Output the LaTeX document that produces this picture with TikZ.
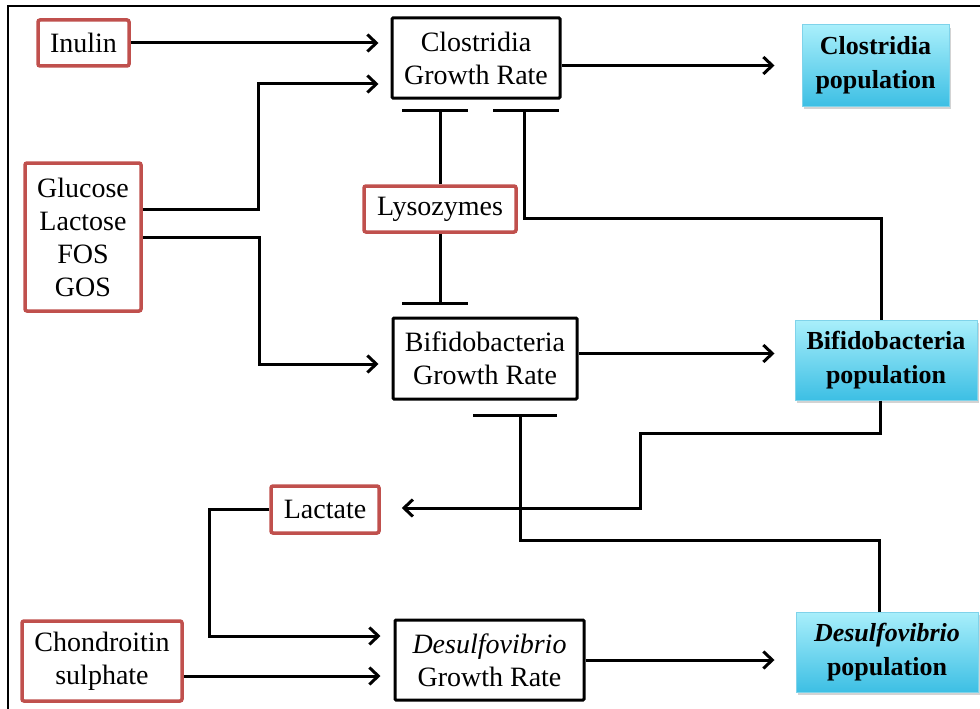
\documentclass[tikz,border=0pt]{standalone}
\usepackage{fontspec}
\setmainfont{Liberation Serif}
\usetikzlibrary{arrows.meta,shadows,calc}
\definecolor{boxred}{HTML}{C0504D}
\definecolor{popTop}{HTML}{A9EFFB}
\definecolor{popBot}{HTML}{3DBFE4}
\definecolor{popEdge}{HTML}{7FD3EA}
\begin{document}
\begin{tikzpicture}[x=1pt,y=-1pt,line width=3pt,
  txt/.style={font=\fontsize{28}{33}\selectfont,align=center,inner sep=0pt},
  redbox/.style={txt,draw=boxred,line width=3.5pt,rounded corners=2pt,fill=white},
  blackbox/.style={txt,draw=black,line width=3pt,rounded corners=1pt,fill=white},
  popbox/.style={align=center,inner sep=0pt,font=\fontsize{26}{34}\selectfont\bfseries,
     draw=popEdge,line width=1pt,top color=popTop,bottom color=popBot,
     drop shadow={shadow xshift=2pt,shadow yshift=-3pt,opacity=0.35}},
  arr/.style={-{Straight Barb[length=9pt,width=17pt,line width=3pt]},line width=3pt},
  bar/.style={line width=3pt,line cap=butt}]
\useasboundingbox (0,0) rectangle (980,709);
\begin{scope}
\clip (0,0) rectangle (980,709);
\draw[line width=2pt] (8,6) rectangle (1000,740);
\end{scope}

% nodes
\node[redbox,minimum width=91pt,minimum height=46pt] (inulin) at (83.5,43) {Inulin};
\node[blackbox,minimum width=168pt,minimum height=80pt] (cgr) at (476,58) {Clostridia\\Growth Rate};
\node[popbox,minimum width=147pt,minimum height=81pt] (cpop) at (875.5,65.5) {Clostridia\\population};
\node[redbox,minimum width=116pt,minimum height=148pt] (glu) at (83,237) {Glucose\\Lactose\\FOS\\GOS};
\node[redbox,minimum width=152pt,minimum height=46pt] (lys) at (440,209) {Lysozymes};
\node[blackbox,minimum width=184pt,minimum height=81pt] (bgr) at (485,358.5) {Bifidobacteria\\Growth Rate};
\node[popbox,minimum width=182pt,minimum height=80pt] (bpop) at (886,360) {Bifidobacteria\\population};
\node[redbox,minimum width=108pt,minimum height=47pt] (lac) at (325,509.5) {Lactate};
\node[redbox,minimum width=160pt,minimum height=80pt] (chon) at (102,661) {Chondroitin\\sulphate};
\node[blackbox,minimum width=189pt,minimum height=80pt] (dgr) at (489.5,660) {\textit{Desulfovibrio}\\Growth Rate};
\node[popbox,minimum width=182pt,minimum height=80pt] (dpop) at (887,652) {\textit{Desulfovibrio}\\population};

% bend coordinates
\coordinate (g1) at (258,84);
\coordinate (g2) at (259,364);
\coordinate (l1) at (209,636);
\coordinate (p1) at (880,433);
\coordinate (p2) at (640,508);
\coordinate (s1) at (440,110);
\coordinate (s2) at (524,110);
\coordinate (s2b) at (524,218);
\coordinate (s3) at (440,303);
\coordinate (s4) at (520,415);
\coordinate (s4b) at (520,540);
\coordinate (b0) at ($(bgr.east)+(0,-5)$);
\coordinate (c0) at ($(chon.east)+(0,15)$);

% activating arrows
\draw[arr,shorten >=12pt] (inulin.east) -- (inulin.east -| cgr.west);
\draw[arr,shorten >=12pt] ($(glu.east)+(0,-28)$) -| (g1) -- (g1 -| cgr.west);
\draw[arr,shorten >=13pt] (glu.east) -| (g2) -- (g2 -| bgr.west);
\draw[arr,shorten >=27pt] (cgr.east |- cpop.west) -- (cpop.west);
\draw[arr,shorten >=20pt] (b0) -- (b0 -| bpop.west);
\draw[arr,shorten >=21pt] (dgr.east) -- (dgr.east -| dpop.west);
\draw[arr,shorten >=13pt] (c0) -- (c0 -| dgr.west);
\draw[arr,shorten >=13pt] (lac.west) -| (l1) -- (l1 -| dgr.west);
\draw[arr,shorten >=21pt] ($(bpop.south)+(-6,0)$) -- (p1) -| (p2) -- (p2 -| lac.east);

% inhibitions
\draw (lys.north) -- (s1);
\draw[bar] (402,110) -- (468,110);
\draw ($(bpop.north)+(-5,0)$) |- (s2b) -- (s2);
\draw[bar] (493,110) -- (559,110);
\draw (lys.south) -- (s3);
\draw[bar] (402,303) -- (468,303);
\draw ($(dpop.north)+(-8,0)$) |- (s4b) -- (s4);
\draw[bar] (473,415) -- (557,415);
\end{tikzpicture}
\end{document}
